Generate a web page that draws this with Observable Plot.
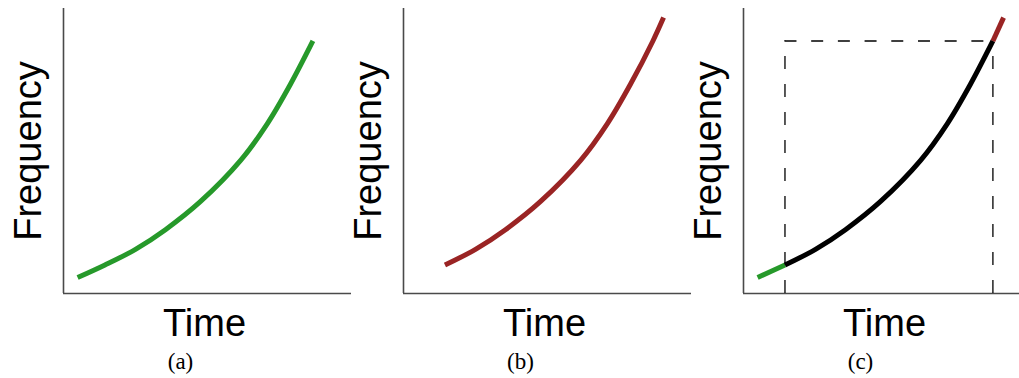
<!DOCTYPE html>
<html><head><meta charset="utf-8">
<script src="https://cdn.jsdelivr.net/npm/d3@7"></script>
<script src="https://cdn.jsdelivr.net/npm/@observablehq/plot@0.6"></script>
<style>
html,body{margin:0;padding:0;background:#fff;overflow:hidden;}
#wrap{position:relative;width:1019px;height:378px;overflow:hidden;background:#fff;}
.panel{position:absolute;top:0;width:352px;height:378px;}
</style></head><body><div id="wrap"></div>
<script>
// One underlying growth curve (arbitrary units, 0-100 on each axis)
const time      = [4.9, 14.4, 25.0, 35.4, 47.6, 61.5, 70.8, 78.8, 86.6, 90.3];
const frequency = [5.6, 10.0, 15.5, 22.4, 32.3, 46.7, 59.6, 73.4, 88.6, 96.8];
const panelNames = ["(a)", "(b)", "(c)"];
const xLabel = "Time";
const yLabel = "Frequency";
const startIndex = 1;   // start of observed window
const endIndex = 8;     // end of observed window

const green = "#26992a", red = "#9a2424", black = "#000000";
const points = time.map((t, i) => ({time: t, frequency: frequency[i]}));
const tStart = time[startIndex], tEnd = time[endIndex], fEnd = frequency[endIndex];

const sans = "Liberation Sans, Arial, Helvetica, sans-serif";
const serif = "Liberation Serif, Times New Roman, serif";

function curve(data, color) {
  return Plot.line(data, {x: "time", y: "frequency", stroke: color, strokeWidth: 5,
    curve: "catmull-rom", strokeLinecap: "butt", strokeLinejoin: "round"});
}

const panelMarks = [
  [curve(points.filter(d => d.time <= tEnd), green)],
  [curve(points.filter(d => d.time >= tStart), red)],
  [
    Plot.ruleX([tStart, tEnd], {y1: 0, y2: fEnd, stroke: black, strokeWidth: 1.3, strokeDasharray: "13,15"}),
    Plot.ruleY([fEnd], {x1: tStart, x2: tEnd, stroke: black, strokeWidth: 1.3, strokeDasharray: "12,14.7"}),
    curve(points.filter(d => d.time <= tStart), green),
    curve(points.filter(d => d.time >= tStart && d.time <= tEnd), black),
    curve(points.filter(d => d.time >= tEnd), red)
  ]
];

const wrap = document.getElementById("wrap");
panelNames.forEach((name, k) => {
  const chart = Plot.plot({
    width: 352, height: 378,
    marginLeft: 63, marginRight: 1, marginTop: 8, marginBottom: 85,
    x: {domain: [0, 100], axis: null},
    y: {domain: [0, 100], axis: null},
    style: {background: "transparent", overflow: "visible"},
    marks: [
      Plot.ruleX([0], {stroke: "#4a4a4a", strokeWidth: 1.6}),
      Plot.ruleY([0], {stroke: "#4a4a4a", strokeWidth: 1.6}),
      ...panelMarks[k],
      Plot.text([yLabel], {text: d => d, frameAnchor: "left", rotate: -90, dx: -23,
        textAnchor: "middle", lineAnchor: "bottom", fontSize: 38, fontFamily: sans, fill: "#000"}),
      Plot.text([xLabel], {text: d => d, frameAnchor: "bottom", dx: -3, dy: 42,
        textAnchor: "middle", lineAnchor: "bottom", fontSize: 38, fontFamily: sans, fill: "#000"}),
      Plot.text([name], {text: d => d, frameAnchor: "bottom", dx: -27, dy: 75,
        textAnchor: "middle", lineAnchor: "bottom", fontSize: 23, fontFamily: serif, fill: "#000"})
    ]
  });
  const div = document.createElement("div");
  div.className = "panel";
  div.style.left = (k * 340) + "px";
  div.appendChild(chart);
  wrap.appendChild(div);
});
</script></body></html>
